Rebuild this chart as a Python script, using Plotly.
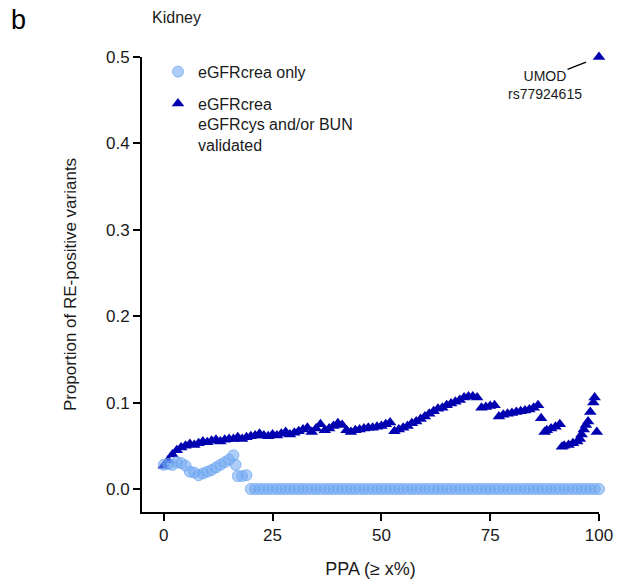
import plotly.graph_objects as go

# PPA thresholds (x, %) and proportion of RE-positive variants (y)
crea_only_ppa = [0, 1, 2, 3, 4, 5, 6, 7, 8, 9, 10, 11, 12, 13, 14, 15, 16, 16.5, 17, 18, 19] + list(range(20, 101))
crea_only_prop = [0.028, 0.029, 0.028, 0.031, 0.030, 0.027, 0.020, 0.019, 0.016, 0.018,
                  0.020, 0.022, 0.025, 0.028, 0.031, 0.034, 0.039, 0.028, 0.015, 0.015,
                  0.016] + [0.0] * 81

validated_ppa = list(range(0, 87)) + [86.7, 87.5, 88, 89, 90, 91, 91.5, 92, 93, 94, 95,
                                      95.6, 96, 96.5, 97, 97.5, 98, 98.7, 99, 99.5, 100]
validated_prop = [
    0.027, 0.033, 0.040, 0.045, 0.048, 0.050, 0.052, 0.051, 0.053, 0.055,
    0.054, 0.056, 0.057, 0.055, 0.057, 0.058, 0.058, 0.060, 0.058, 0.060,
    0.061, 0.062, 0.064, 0.062, 0.061, 0.063, 0.062, 0.064, 0.066, 0.063,
    0.065, 0.067, 0.069, 0.071, 0.066, 0.070, 0.075, 0.068, 0.070, 0.073,
    0.076, 0.074, 0.068, 0.066, 0.068, 0.069, 0.070, 0.071, 0.071, 0.072,
    0.073, 0.075, 0.077, 0.067, 0.069, 0.071, 0.073, 0.076, 0.078, 0.081,
    0.084, 0.087, 0.090, 0.093, 0.094, 0.097, 0.099, 0.101, 0.103, 0.106,
    0.107, 0.107, 0.106, 0.094, 0.095, 0.096, 0.097, 0.084, 0.086, 0.087,
    0.088, 0.089, 0.090, 0.091, 0.092, 0.094, 0.097,
    0.082, 0.066, 0.068, 0.070, 0.072, 0.075, 0.049, 0.050, 0.051, 0.053, 0.055,
    0.058, 0.063, 0.069, 0.074, 0.078, 0.089, 0.100, 0.106, 0.066, 0.500,
]

x_ticks = [0, 25, 50, 75, 100]
y_ticks = [0.0, 0.1, 0.2, 0.3, 0.4, 0.5]

FONT = "Liberation Sans, Arial, sans-serif"
TEXT = "#1a1a1a"
LIGHT = "rgba(110,165,240,0.55)"
LIGHT_EDGE = "rgba(110,165,240,0.75)"
DARK = "#0000B0"

fig = go.Figure()

fig.add_trace(go.Scatter(
    x=validated_ppa, y=validated_prop, mode="markers",
    name="eGFRcrea<br>eGFRcys and/or BUN<br>validated",
    marker=dict(symbol="triangle-up", size=11, color=DARK, line=dict(width=0)),
    cliponaxis=False, legendrank=2, legendgroup="b",
))
fig.add_trace(go.Scatter(
    x=crea_only_ppa, y=crea_only_prop, mode="markers",
    name="eGFRcrea only",
    marker=dict(symbol="circle", size=11, color=LIGHT, line=dict(width=1, color=LIGHT_EDGE)),
    cliponaxis=False, legendrank=1, legendgroup="a",
))

axis_common = dict(
    showline=True, linecolor="black", linewidth=2,
    ticks="outside", ticklen=7, tickwidth=2, tickcolor="black",
    showgrid=False, zeroline=False, automargin=False,
    tickfont=dict(family=FONT, size=17, color=TEXT),
)

fig.update_xaxes(range=[-5, 100], tickvals=x_ticks, ticktext=[str(v) for v in x_ticks],
                 title=dict(text="PPA (≥ x%)", font=dict(family=FONT, size=18, color=TEXT), standoff=18),
                 **axis_common)
fig.update_yaxes(range=[-0.0266, 0.5], tickvals=y_ticks, ticktext=[f"{v:.1f}" for v in y_ticks],
                 title=dict(text="Proportion of RE-positive variants", font=dict(family=FONT, size=17, color=TEXT), standoff=25),
                 **axis_common)

fig.add_annotation(xref="paper", yref="paper", x=-0.29, y=1.081, text="b",
                   showarrow=False, xanchor="left", yanchor="middle",
                   font=dict(family=FONT, size=27, color="black"))
fig.add_annotation(xref="paper", yref="paper", x=0.017, y=1.086, text="Kidney",
                   showarrow=False, xanchor="left", yanchor="middle",
                   font=dict(family=FONT, size=16, color=TEXT))

# UMOD label with a connector to its point
fig.add_annotation(x=100, y=0.5, text="UMOD<br>rs77924615", showarrow=False,
                   xshift=-54, yshift=-28, align="center",
                   font=dict(family=FONT, size=14, color=TEXT))
fig.add_annotation(x=100, y=0.5, text=" ", showarrow=True, arrowhead=0,
                   arrowwidth=1.3, arrowcolor="black", ax=-33, ay=13, standoff=14,
                   font=dict(size=1))

fig.update_layout(
    width=619, height=584,
    margin=dict(l=142, r=20, t=57, b=72),
    plot_bgcolor="white", paper_bgcolor="white",
    font=dict(family=FONT, color=TEXT),
    legend=dict(x=0.035, y=1.005, xanchor="left", yanchor="top",
                font=dict(family=FONT, size=16, color=TEXT),
                valign="top", tracegroupgap=8, bgcolor="rgba(0,0,0,0)",
                itemwidth=30),
    showlegend=True,
)

fig.write_html("out.html")
